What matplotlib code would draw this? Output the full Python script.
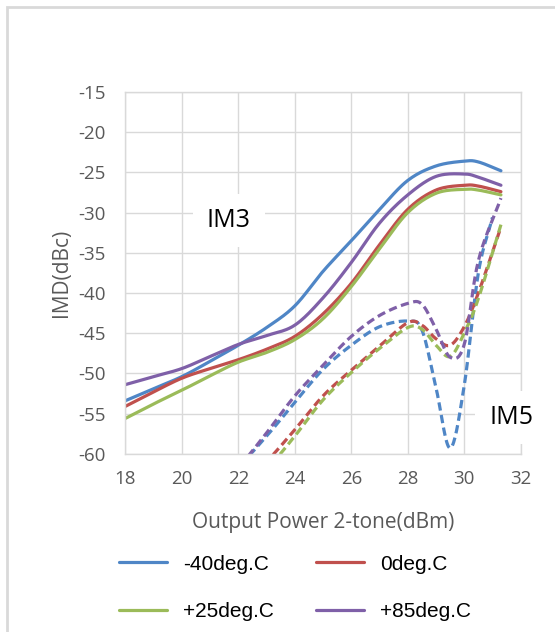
import numpy as np
import matplotlib
matplotlib.use("Agg")
import matplotlib.pyplot as plt
from matplotlib.patches import Rectangle

# IM3 (solid) data
x_im3 = [18, 19, 20, 21, 22, 23, 24, 25, 26, 27, 28, 29, 30, 30.5, 31.3]
im3_m40 = [-53.4, -51.9, -50.4, -48.5, -46.5, -44.3, -41.6, -37.3, -33.5, -29.6, -26.0, -24.2, -23.6, -23.7, -24.8]
im3_0 = [-54.1, -52.3, -50.6, -49.4, -48.3, -47.0, -45.4, -42.6, -38.8, -34.0, -29.6, -27.2, -26.6, -26.7, -27.4]
im3_25 = [-55.6, -53.8, -52.1, -50.3, -48.6, -47.4, -45.8, -43.2, -39.2, -34.5, -30.0, -27.6, -27.1, -27.2, -27.8]
im3_85 = [-51.4, -50.4, -49.4, -47.9, -46.4, -45.3, -44.0, -40.6, -36.2, -31.3, -27.8, -25.5, -25.2, -25.6, -26.6]

# IM5 (dashed) data
x_im5 = [18, 19, 20, 21, 22, 23, 24, 25, 26, 27, 28, 28.5, 29, 29.5, 30, 30.5, 31.3]
im5_m40 = [-60.3, -62.5, -64.0, -63.5, -61.5, -57.8, -53.6, -49.5, -46.5, -44.2, -43.5, -44.6, -51.8, -59.3, -51.5, -37.5, -30.6]
im5_0 = [-60.3, -64.0, -67.0, -67.0, -64.5, -61.0, -57.0, -52.8, -49.6, -46.6, -43.7, -44.0, -45.7, -46.5, -44.2, -40.0, -31.8]
im5_25 = [-65.0, -68.0, -69.0, -68.0, -65.5, -62.0, -57.8, -53.3, -49.9, -46.9, -44.3, -44.5, -46.5, -47.9, -45.0, -40.7, -31.5]
im5_85 = [-66.0, -68.0, -68.0, -66.0, -61.8, -57.4, -52.8, -49.0, -45.4, -42.8, -41.3, -41.4, -44.5, -48.0, -46.4, -36.0, -28.2]
x_im5_m40 = x_im5[:-1] + [31.0]

labels = ["-40deg.C", "0deg.C", "+25deg.C", "+85deg.C"]
colors = ["#4f86c6", "#c0504d", "#9bbb59", "#7f60a8"]


def smooth(x, y, n=20):
    # Catmull-Rom curve through the points, like Excel's smoothed line
    p = np.column_stack([x, y]).astype(float)
    p = np.vstack([2 * p[0] - p[1], p, 2 * p[-1] - p[-2]])
    out = []
    t = np.linspace(0, 1, n, endpoint=False)[:, None]
    for i in range(1, len(p) - 2):
        p0, p1, p2, p3 = p[i - 1], p[i], p[i + 1], p[i + 2]
        seg = 0.5 * ((2 * p1) + (-p0 + p2) * t + (2 * p0 - 5 * p1 + 4 * p2 - p3) * t ** 2
                     + (-p0 + 3 * p1 - 3 * p2 + p3) * t ** 3)
        out.append(seg)
    out.append(p[-2][None, :])
    out = np.vstack(out)
    return out[:, 0], out[:, 1]


plt.rcParams['font.family'] = ['Open Sans', 'DejaVu Sans']
plt.rcParams['axes.unicode_minus'] = False

fig = plt.figure(figsize=(5.55, 6.32), dpi=100)
ax = fig.add_axes([0.2261, 0.2821, 0.7121, 0.5723])

# outer chart border
fig.patches.append(Rectangle((7 / 555, -0.1), 1.2, 1 - 7 / 632 + 0.1, transform=fig.transFigure,
                             fill=False, ec="#d9d9d9", lw=2))

lw = 2.3
im3_series = [im3_m40, im3_0, im3_25, im3_85]
im5_series = [im5_m40, im5_0, im5_25, im5_85]
handles = []
for ys, c, lab in zip(im3_series, colors, labels):
    sx, sy = smooth(x_im3, ys)
    h, = ax.plot(sx, sy, color=c, lw=lw, label=lab, solid_capstyle="round")
    handles.append(h)
for i, (ys, c) in enumerate(zip(im5_series, colors)):
    xs = x_im5_m40 if i == 0 else x_im5
    sx, sy = smooth(xs, ys)
    ax.plot(sx, sy, color=c, lw=lw, dashes=(2.6, 1.4))

ax.set_xlim(18, 32)
ax.set_ylim(-60, -15)
ax.set_xticks(np.arange(18, 33, 2))
ax.set_yticks(np.arange(-60, -14, 5))
ax.grid(True, color="#d9d9d9", lw=1)
ax.set_axisbelow(True)
for s in ax.spines.values():
    s.set_color("#d9d9d9")
    s.set_linewidth(1)
ax.tick_params(length=0, labelsize=13.5, labelcolor="#595959")
ax.tick_params(axis="x", pad=12)
ax.tick_params(axis="y", pad=14)

ax.set_xlabel("Output Power 2-tone(dBm)", fontsize=15, color="#595959", labelpad=17)
ax.set_ylabel("IMD(dBc)", fontsize=15, color="#595959", labelpad=5)

ax.text(21.65, -31.0, "IM3", fontsize=18, color="black", ha="center", va="center",
        bbox=dict(fc="white", ec="none", pad=10))
ax.text(31.66, -55.5, "IM5", fontsize=18, color="black", ha="center", va="center",
        bbox=dict(fc="white", ec="none", pad=10), clip_on=False)

# row-wise legend order: -40, 0 / +25, +85
order = [0, 2, 1, 3]
fig.legend(handles=[handles[i] for i in order], labels=[labels[i] for i in order],
           ncol=2, loc="upper left",
           bbox_to_anchor=(100 / 555, 1 - 536 / 632), frameon=False,
           prop={"family": "Liberation Sans", "size": 15},
           handlelength=2.3, handletextpad=0.8, columnspacing=2.0, labelspacing=1.35)

fig.savefig("out.png", dpi=100, facecolor="white")
